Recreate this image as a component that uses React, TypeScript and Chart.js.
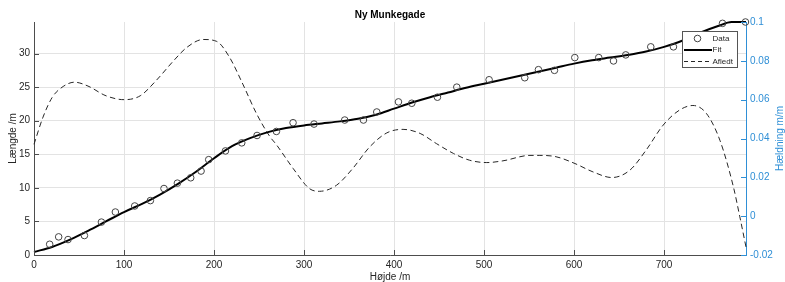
import React, { useEffect, useRef } from 'react';
import { Chart, registerables } from 'chart.js';

Chart.register(...registerables);

const titleText = 'Ny Munkegade';
const xLabel = 'Højde /m';
const yLabel = 'Længde /m';
const y1Label = 'Hældning m/m';
const legendLabels = ['Data', 'Fit', 'Afledt'];

const xTicks = [0, 100, 200, 300, 400, 500, 600, 700];
const yTicks = [0, 5, 10, 15, 20, 25, 30];
const y1Ticks = [-0.02, 0, 0.02, 0.04, 0.06, 0.08, 0.1];

// Measured points (Højde, Længde)
const dataX = [17.4, 27.4, 37.8, 56, 74.9, 90.4, 111.9, 129.3, 144.4, 159.3, 174.1, 185.6, 194.1, 212.7, 230.8, 247.8, 269.3, 287.8, 311.1, 345.2, 366, 380.8, 404.9, 419.7, 448.2, 469.7, 505.6, 545.2, 560.4, 578.2, 600.8, 627.4, 643.8, 657.4, 685.2, 710.4, 764.9, 790.4];
const dataY = [1.6, 2.7, 2.3, 2.9, 4.9, 6.4, 7.3, 8.1, 9.9, 10.7, 11.5, 12.5, 14.2, 15.5, 16.7, 17.8, 18.4, 19.7, 19.5, 20.1, 20.1, 21.3, 22.8, 22.6, 23.5, 25.0, 26.1, 26.4, 27.6, 27.5, 29.4, 29.4, 28.9, 29.8, 31.0, 31.0, 34.5, 34.7];

// Fitted curve
const fitX = [0, 20, 40, 60, 80, 100, 120, 140, 160, 180, 200, 220, 240, 260, 280, 300, 320, 340, 360, 380, 400, 420, 440, 460, 480, 500, 520, 540, 560, 580, 600, 620, 640, 660, 680, 700, 720, 740, 760, 775, 791];
const fitY = [0.45, 1.2, 2.3, 3.6, 5.0, 6.4, 7.6, 9.0, 10.6, 12.4, 14.4, 16.2, 17.4, 18.3, 18.9, 19.3, 19.6, 19.9, 20.3, 20.9, 21.8, 22.7, 23.5, 24.2, 24.9, 25.5, 26.1, 26.7, 27.3, 27.9, 28.5, 29.0, 29.4, 29.8, 30.3, 31.0, 31.9, 33.1, 34.1, 34.7, 34.7];

// Derivative (Afledt), right axis
const derivX = [0, 10, 20, 30, 45, 60, 80, 100, 118, 136, 155, 170, 188, 203, 217, 232, 247, 262, 269, 288, 306, 317, 336, 354, 373, 392, 410, 429, 447, 466, 484, 503, 521, 551, 562, 580, 601, 621, 642, 662, 680, 699, 717, 732, 747, 762, 777, 784, 791];
const derivY = [0.037, 0.051, 0.061, 0.066, 0.069, 0.067, 0.062, 0.060, 0.062, 0.070, 0.080, 0.087, 0.091, 0.090, 0.082, 0.068, 0.053, 0.041, 0.037, 0.0245, 0.0142, 0.0128, 0.0159, 0.0245, 0.0357, 0.0429, 0.0447, 0.0426, 0.0374, 0.0323, 0.0288, 0.0276, 0.0285, 0.0313, 0.0313, 0.0306, 0.0271, 0.0228, 0.0199, 0.0237, 0.034, 0.0469, 0.0546, 0.057, 0.0529, 0.0391, 0.0151, 0.0, -0.0159];

const xMin = 0;
const xMax = 791;
const yMin = 0;
const yMax = 34.7;
const y1Min = -0.02;
const y1Max = 0.1;

const FONT = '"Liberation Sans", Arial, Helvetica, sans-serif';
const TEXT = '#262626';
const AXIS = '#4d4d4d';
const GRID = '#e3e3e3';
const BLUE = '#2f8fd6';

const fmt = (v: any) => String(Number(Number(v).toFixed(2)));

const overlay = {
  id: 'overlay',
  afterDraw(chart: any) {
    const { ctx, chartArea: a, scales } = chart;
    ctx.save();
    ctx.lineWidth = 1;
    ctx.strokeStyle = AXIS;
    ctx.beginPath();
    for (const v of xTicks) {
      const px = Math.round(scales.x.getPixelForValue(v)) + 0.5;
      ctx.moveTo(px, a.bottom);
      ctx.lineTo(px, a.bottom - 5);
    }
    for (const v of yTicks) {
      const py = Math.round(scales.y.getPixelForValue(v)) + 0.5;
      ctx.moveTo(a.left, py);
      ctx.lineTo(a.left + 5, py);
    }
    ctx.stroke();
    ctx.strokeStyle = BLUE;
    ctx.beginPath();
    for (const v of y1Ticks) {
      const py = Math.round(scales.y1.getPixelForValue(v)) + 0.5;
      ctx.moveTo(a.right, py);
      ctx.lineTo(a.right - 5, py);
    }
    ctx.stroke();

    ctx.fillStyle = '#000';
    ctx.font = `bold 10px ${FONT}`;
    ctx.textAlign = 'center';
    ctx.textBaseline = 'middle';
    ctx.fillText(titleText, (a.left + a.right) / 2, 15);

    ctx.font = `10px ${FONT}`;
    ctx.fillStyle = TEXT;
    ctx.fillText(xLabel, (a.left + a.right) / 2, 277);
    ctx.save();
    ctx.translate(13, (a.top + a.bottom) / 2);
    ctx.rotate(-Math.PI / 2);
    ctx.fillText(yLabel, 0, 0);
    ctx.restore();
    ctx.save();
    ctx.fillStyle = BLUE;
    ctx.translate(780, (a.top + a.bottom) / 2);
    ctx.rotate(-Math.PI / 2);
    ctx.fillText(y1Label, 0, 0);
    ctx.restore();

    const lx = 682, ly = 31, lw = 55, lh = 36;
    ctx.fillStyle = '#fff';
    ctx.fillRect(lx, ly, lw, lh);
    ctx.strokeStyle = '#555';
    ctx.lineWidth = 1;
    ctx.strokeRect(lx + 0.5, ly + 0.5, lw, lh);
    const rows = [38.5, 50, 61.5];
    ctx.font = `8px ${FONT}`;
    ctx.textAlign = 'left';
    ctx.fillStyle = TEXT;
    rows.forEach((ry, i) => ctx.fillText(legendLabels[i], 712.5, ry));
    ctx.strokeStyle = '#444';
    ctx.beginPath();
    ctx.arc(697.5, rows[0], 3.3, 0, Math.PI * 2);
    ctx.stroke();
    ctx.strokeStyle = '#000';
    ctx.lineWidth = 2;
    ctx.beginPath();
    ctx.moveTo(684, rows[1]);
    ctx.lineTo(712, rows[1]);
    ctx.stroke();
    ctx.lineWidth = 1;
    ctx.strokeStyle = '#262626';
    ctx.setLineDash([4, 3]);
    ctx.beginPath();
    ctx.moveTo(684, rows[2]);
    ctx.lineTo(712, rows[2]);
    ctx.stroke();
    ctx.restore();
  },
};

export default function App() {
  const ref = useRef<HTMLCanvasElement | null>(null);
  useEffect(() => {
    if (!ref.current) return;
    const chart = new Chart(ref.current, {
      type: 'scatter',
      data: {
        datasets: [
          {
            label: legendLabels[0],
            data: dataX.map((x, i) => ({ x, y: dataY[i] })),
            showLine: false,
            pointStyle: 'circle',
            pointRadius: 3.3,
            pointBorderWidth: 1,
            pointBorderColor: '#444',
            pointBackgroundColor: 'rgba(0,0,0,0)',
            yAxisID: 'y',
            clip: false,
          } as any,
          {
            label: legendLabels[1],
            data: fitX.map((x, i) => ({ x, y: fitY[i] })),
            showLine: true,
            borderColor: '#000',
            borderWidth: 2,
            pointRadius: 0,
            cubicInterpolationMode: 'monotone',
            yAxisID: 'y',
            clip: false,
          } as any,
          {
            label: legendLabels[2],
            data: derivX.map((x, i) => ({ x, y: derivY[i] })),
            showLine: true,
            borderColor: '#262626',
            borderWidth: 1,
            borderDash: [5.5, 3.5],
            pointRadius: 0,
            cubicInterpolationMode: 'monotone',
            yAxisID: 'y1',
            clip: false,
          } as any,
        ],
      },
      options: {
        responsive: false,
        maintainAspectRatio: false,
        animation: false,
        layout: { padding: { top: 22, left: 0, right: 0, bottom: 0 } },
        plugins: {
          legend: { display: false },
          title: { display: false },
          tooltip: { enabled: false },
        },
        scales: {
          x: {
            type: 'linear',
            min: xMin,
            max: xMax,
            afterFit: (s: any) => { s.height = 27; },
            afterBuildTicks: (s: any) => { s.ticks = xTicks.map((v) => ({ value: v })); },
            grid: { color: GRID, drawTicks: false },
            border: { color: AXIS, width: 1 },
            ticks: {
              autoSkip: false,
              padding: 4,
              color: TEXT,
              font: { family: FONT, size: 10 },
              maxRotation: 0,
              callback: fmt,
            },
          },
          y: {
            type: 'linear',
            position: 'left',
            min: yMin,
            max: yMax,
            afterFit: (s: any) => { s.width = 34; },
            afterBuildTicks: (s: any) => { s.ticks = yTicks.map((v) => ({ value: v })); },
            grid: { color: GRID, drawTicks: false },
            border: { color: AXIS, width: 1 },
            ticks: {
              autoSkip: false,
              padding: 4,
              color: TEXT,
              font: { family: FONT, size: 10 },
              callback: fmt,
            },
          },
          y1: {
            type: 'linear',
            position: 'right',
            min: y1Min,
            max: y1Max,
            afterFit: (s: any) => { s.width = 39; },
            afterBuildTicks: (s: any) => { s.ticks = y1Ticks.map((v) => ({ value: v })); },
            grid: { display: false, drawTicks: false },
            border: { color: BLUE, width: 1 },
            ticks: {
              autoSkip: false,
              padding: 4,
              color: BLUE,
              font: { family: FONT, size: 10 },
              callback: fmt,
            },
          },
        },
      } as any,
      plugins: [overlay],
    });
    return () => chart.destroy();
  }, []);
  return (
    <div style={{ position: 'absolute', left: 0, top: 0, width: 785, height: 282, background: '#fff' }}>
      <canvas ref={ref} width={785} height={282} />
    </div>
  );
}
